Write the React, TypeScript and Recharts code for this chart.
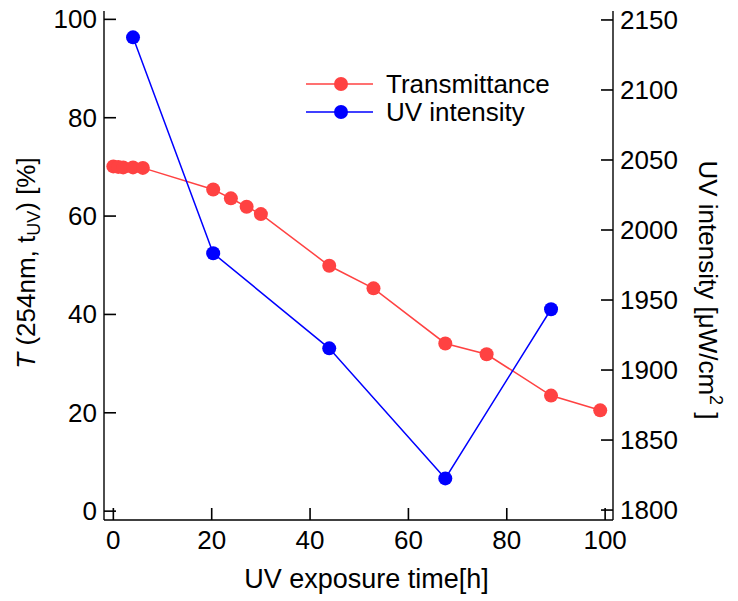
import React from "react";
import {
  LineChart,
  Line,
  XAxis,
  YAxis,
  Legend,
  Label,
} from "recharts";

// transmittance at 254 nm vs UV exposure time
const transTime = [0, 1, 2, 4, 6, 20.3, 23.9, 27.1, 30, 43.9, 52.9, 67.5, 75.9, 89, 99];
const transValue = [70.1, 70, 69.9, 69.9, 69.8, 65.4, 63.6, 61.9, 60.4, 49.9, 45.3, 34.1, 31.9, 23.5, 20.5];

// UV lamp intensity
const uvTime = [4, 20.3, 43.9, 67.5, 89];
const uvValue = [2137.6, 1983.4, 1915.5, 1822.6, 1943.4];

const xTicks = [0, 20, 40, 60, 80, 100];
const leftTicks = [0, 20, 40, 60, 80, 100];
const rightTicks = [1800, 1850, 1900, 1950, 2000, 2050, 2100, 2150];

const RED = "#ff4242";
const BLUE = "#0000ff";
const FONT = "'Liberation Sans', Arial, Helvetica, sans-serif";
const FS = 26;
const TICK = 12;
const GAP = 7;
const LW = 1.6;

const transData = transTime.map((t, i) => ({ t, v: transValue[i] }));
const uvData = uvTime.map((t, i) => ({ t, v: uvValue[i] }));

const axisLine = { stroke: "#000", strokeWidth: 1.4 };

// tick label plus an inward tick mark
const LeftTick = (p: any) => {
  const x = Number(p.x);
  const y = Number(p.y);
  return (
    <g>
      <rect x={x + GAP} y={y - LW / 2} width={TICK} height={LW} fill="#000" />
      <text x={x} y={y + 9} textAnchor="end" fontSize={FS} fontFamily={FONT} fill="#000">
        {p.payload.value}
      </text>
    </g>
  );
};

const RightTick = (p: any) => {
  const x = Number(p.x);
  const y = Number(p.y);
  return (
    <g>
      <rect x={x - GAP - TICK} y={y - LW / 2} width={TICK} height={LW} fill="#000" />
      <text x={x} y={y + 9} textAnchor="start" fontSize={FS} fontFamily={FONT} fill="#000">
        {p.payload.value}
      </text>
    </g>
  );
};

const BottomTick = (p: any) => {
  const x = Number(p.x);
  const y = Number(p.y);
  return (
    <g>
      <rect x={x - LW / 2} y={y - GAP - TICK} width={LW} height={TICK} fill="#000" />
      <text x={x} y={y + 22} textAnchor="middle" fontSize={FS} fontFamily={FONT} fill="#000">
        {p.payload.value}
      </text>
    </g>
  );
};

const LegendBox = () => (
  <svg width={260} height={64}>
    <line x1={6} x2={73} y1={18} y2={18} stroke={RED} strokeWidth={1.5} />
    <circle cx={41} cy={18} r={7} fill={RED} />
    <text x={86} y={27} fontSize={FS} fontFamily={FONT}>Transmittance</text>
    <line x1={6} x2={73} y1={46} y2={46} stroke={BLUE} strokeWidth={1.5} />
    <circle cx={41} cy={46} r={7} fill={BLUE} />
    <text x={86} y={55} fontSize={FS} fontFamily={FONT}>UV intensity</text>
  </svg>
);

export default function App() {
  return (
    <div style={{ position: "absolute", left: 0, top: 0, width: 738, height: 601 }}>
      <LineChart width={738} height={601} margin={{ top: 11, right: 0, bottom: 0, left: 0 }}>
        <XAxis
          xAxisId="b"
          type="number"
          dataKey="t"
          domain={[-1.9, 101.6]}
          ticks={xTicks}
          height={81}
          tickSize={0}
          tickMargin={GAP}
          tickLine={false}
          tick={<BottomTick />}
          axisLine={axisLine}
        >
          <Label
            content={(props: any) => {
              const vb = props.viewBox;
              return (
                <text x={vb.x + vb.width / 2 + 8} y={vb.y + 68} textAnchor="middle" fontSize={27} fontFamily={FONT}>
                  UV exposure time[h]
                </text>
              );
            }}
          />
        </XAxis>
        <XAxis
          xAxisId="top"
          orientation="top"
          type="number"
          dataKey="t"
          domain={[-1.9, 101.6]}
          height={0}
          tick={false}
          tickLine={false}
          axisLine={axisLine}
        />
        <YAxis
          yAxisId="l"
          type="number"
          domain={[-1.8, 101.7]}
          ticks={leftTicks}
          width={104}
          tickSize={0}
          tickMargin={GAP}
          tickLine={false}
          tick={<LeftTick />}
          axisLine={axisLine}
        >
          <Label
            content={() => (
              <text transform="translate(35, 263) rotate(-90)" x={0} y={0} textAnchor="middle" fontSize={FS} fontFamily={FONT}>
                <tspan fontStyle="italic">T</tspan>
                <tspan> (254nm, t</tspan>
                <tspan fontSize={18} dy={5}>UV</tspan>
                <tspan dy={-5}>) [%]</tspan>
              </text>
            )}
          />
        </YAxis>
        <YAxis
          yAxisId="r"
          orientation="right"
          type="number"
          domain={[1792.9, 2156.4]}
          ticks={rightTicks}
          width={125}
          tickSize={0}
          tickMargin={GAP}
          tickLine={false}
          tick={<RightTick />}
          axisLine={axisLine}
        >
          <Label
            content={() => (
              <text transform="translate(699, 290) rotate(90)" x={0} y={0} textAnchor="middle" fontSize={FS} fontFamily={FONT}>
                <tspan>UV intensity [μW/cm</tspan>
                <tspan fontSize={18} dy={-11}>2</tspan>
                <tspan dy={11}> ]</tspan>
              </text>
            )}
          />
        </YAxis>
        <Legend
          layout="vertical"
          align="center"
          verticalAlign="middle"
          wrapperStyle={{ left: 300, top: 66, width: 260, height: 64 }}
          content={() => <LegendBox />}
        />
        <Line
          data={transData}
          xAxisId="b"
          yAxisId="l"
          dataKey="v"
          name="Transmittance"
          stroke={RED}
          strokeWidth={1.5}
          dot={{ r: 7, fill: RED, stroke: "none" }}
          activeDot={false}
          isAnimationActive={false}
        />
        <Line
          data={uvData}
          xAxisId="b"
          yAxisId="r"
          dataKey="v"
          name="UV intensity"
          stroke={BLUE}
          strokeWidth={1.5}
          dot={{ r: 7, fill: BLUE, stroke: "none" }}
          activeDot={false}
          isAnimationActive={false}
        />
      </LineChart>
    </div>
  );
}
